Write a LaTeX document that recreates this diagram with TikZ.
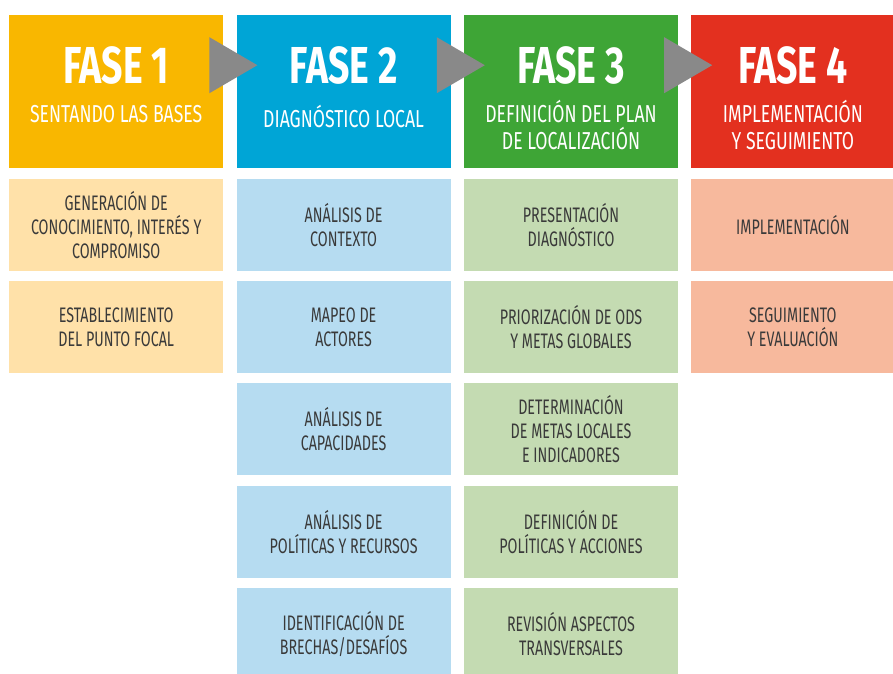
\documentclass[tikz,border=0pt]{standalone}
\usepackage{fontspec}
\setmainfont{Fira Sans}[FakeStretch=0.68]
\newfontfamily\cabecera{Fira Sans}[FakeStretch=0.72]
\usetikzlibrary{positioning}
\usetikzlibrary{calc}
\definecolor{amarillo}{HTML}{F9B700}
\definecolor{azul}{HTML}{00A5D6}
\definecolor{verde}{HTML}{3EA536}
\definecolor{rojo}{HTML}{E3301F}
\definecolor{amarilloC}{HTML}{FFE1A9}
\definecolor{azulC}{HTML}{B6DCF1}
\definecolor{verdeC}{HTML}{C4DBB2}
\definecolor{rojoC}{HTML}{F7B99D}
\definecolor{gris}{HTML}{898989}
\definecolor{texto}{HTML}{3A3A3A}

\begin{document}
\begin{tikzpicture}[x=1pt,y=1pt,node distance=10pt and 13pt,
		fase/.style={rectangle,inner sep=0pt,minimum width=214pt,minimum height=153pt},
		paso/.style={rectangle,inner sep=0pt,minimum width=214pt,minimum height=92pt,text=texto,align=center,font=\fontsize{21}{24}\selectfont},
		titulo/.style={anchor=base,inner sep=0pt,text=white,font=\cabecera\fontsize{52}{52}\selectfont\bfseries},
		subtitulo/.style={anchor=base,inner sep=0pt,text=white,align=center,font=\cabecera\fontsize{24.5}{27}\selectfont}]
		\useasboundingbox[fill=white] (0,0) rectangle (893,-673);
		
		\node[fase,fill=amarillo,anchor=north west] (f1) at (9,-15) {};
		\node[fase,fill=azul]  (f2) [right=of f1] {};
		\node[fase,fill=verde] (f3) [right=of f2] {};
		\node[fase,fill=rojo,minimum width=203pt]  (f4) [right=of f3] {};
		
		% flechas entre fases
		\foreach \a/\b in {f1/f2,f2/f3,f3/f4}
			\fill[gris] ($(\a.east)+(-14,54.5)$) -- ++(48,-28) -- ++(-48,-28) -- cycle;
		
		\node[titulo] (t1) at ($(f1.north)+(0,-68)$) {FASE 1};
		\node[titulo] (t2) at ($(f2.north)+(0,-68)$) {FASE 2};
		\node[titulo] (t3) at ($(f3.north)+(0,-68)$) {FASE 3};
		\node[titulo] (t4) at ($(f4.north)+(0,-68)$) {FASE 4};
		
		% base = ultima linea
		\node[subtitulo] (s1) at ($(f1.north)+(0,-107)$) {SENTANDO LAS BASES};
		\node[subtitulo] (s2) at ($(f2.north)+(0,-112)$) {DIAGNÓSTICO LOCAL};
		\node[subtitulo] (s3) at ($(f3.north)+(0,-134)$) {DEFINICIÓN DEL PLAN\\DE LOCALIZACIÓN};
		\node[subtitulo] (s4) at ($(f4.north)+(0,-134)$) {IMPLEMENTACIÓN\\Y SEGUIMIENTO};
		
		% fase 1
		\node[paso,fill=amarilloC] (p11) [below=of f1]  {GENERACIÓN DE\\CONOCIMIENTO, INTERÉS Y\\COMPROMISO};
		\node[paso,fill=amarilloC] (p12) [below=of p11] {ESTABLECIMIENTO\\DEL PUNTO FOCAL};
		
		% fase 2
		\node[paso,fill=azulC] (p21) [below=of f2]  {ANÁLISIS DE\\CONTEXTO};
		\node[paso,fill=azulC] (p22) [below=of p21] {MAPEO DE\\ACTORES};
		\node[paso,fill=azulC] (p23) [below=of p22] {ANÁLISIS DE\\CAPACIDADES};
		\node[paso,fill=azulC] (p24) [below=of p23] {ANÁLISIS DE\\POLÍTICAS Y RECURSOS};
		\node[paso,fill=azulC] (p25) [below=of p24] {IDENTIFICACIÓN DE\\BRECHAS/DESAFÍOS};
		
		% fase 3
		\node[paso,fill=verdeC] (p31) [below=of f3]  {PRESENTACIÓN\\DIAGNÓSTICO};
		\node[paso,fill=verdeC] (p32) [below=of p31] {PRIORIZACIÓN DE ODS\\Y METAS GLOBALES};
		\node[paso,fill=verdeC] (p33) [below=of p32] {DETERMINACIÓN\\DE METAS LOCALES\\E INDICADORES};
		\node[paso,fill=verdeC] (p34) [below=of p33] {DEFINICIÓN DE\\POLÍTICAS Y ACCIONES};
		\node[paso,fill=verdeC] (p35) [below=of p34] {REVISIÓN ASPECTOS\\TRANSVERSALES};
		
		% fase 4
		\node[paso,fill=rojoC,minimum width=203pt] (p41) [below=of f4]  {IMPLEMENTACIÓN};
		\node[paso,fill=rojoC,minimum width=203pt] (p42) [below=of p41] {SEGUIMIENTO\\Y EVALUACIÓN};
\end{tikzpicture}
\end{document}
